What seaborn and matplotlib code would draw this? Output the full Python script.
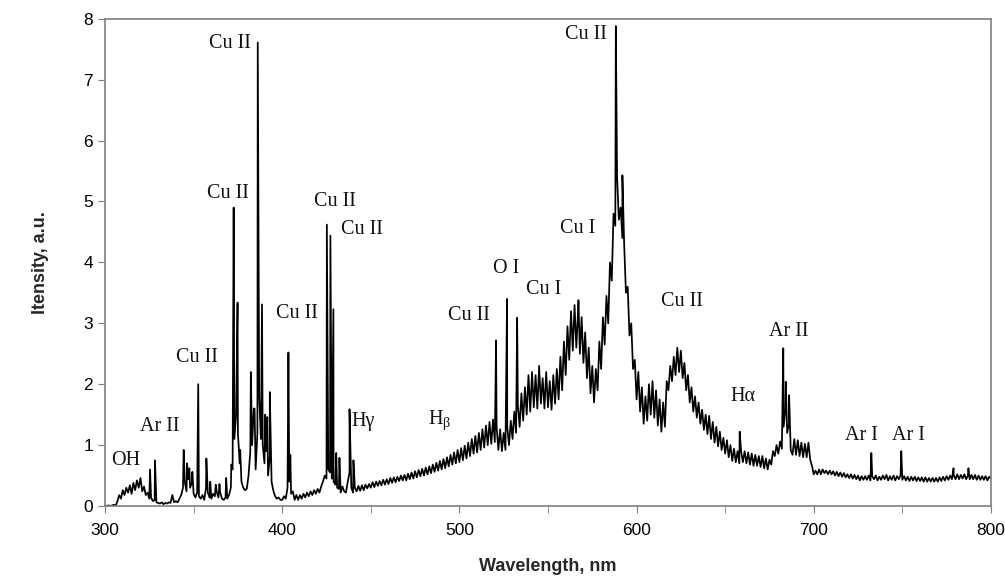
import numpy as np
import pandas as pd
import seaborn as sns
import matplotlib.pyplot as plt
from matplotlib.ticker import MultipleLocator

# continuum, read every 1 nm from 300 to 800 nm
cont_start = 300
continuum = [
    0.01, 0.00, 0.01, 0.00, 0.01, 0.02, 0.00, 0.08, 0.18, 0.12,
    0.26, 0.18, 0.30, 0.22, 0.34, 0.20, 0.38, 0.26, 0.42, 0.30,
    0.46, 0.24, 0.32, 0.18, 0.22, 0.12, 0.14, 0.08, 0.10, 0.06,
    0.05, 0.04, 0.06, 0.03, 0.05, 0.04, 0.06, 0.05, 0.18, 0.06,
    0.08, 0.06, 0.12, 0.18, 0.30, 0.40, 0.24, 0.44, 0.30, 0.38,
    0.20, 0.14, 0.22, 0.16, 0.12, 0.18, 0.10, 0.30, 0.22, 0.14,
    0.12, 0.20, 0.16, 0.24, 0.14, 0.22, 0.12, 0.10, 0.14, 0.12,
    0.18, 0.30, 0.60, 1.10, 1.50, 1.20, 0.70, 0.40, 0.30, 0.26,
    0.28, 0.50, 0.90, 1.00, 1.60, 0.60, 1.20, 1.80, 1.10, 1.00,
    0.70, 0.90, 0.50, 0.80, 0.40, 0.25, 0.16, 0.12, 0.14, 0.10,
    0.10, 0.16, 0.12, 0.30, 0.40, 0.20, 0.24, 0.10, 0.18, 0.10,
    0.18, 0.12, 0.20, 0.14, 0.22, 0.16, 0.24, 0.18, 0.26, 0.20,
    0.28, 0.22, 0.32, 0.40, 0.50, 0.45, 0.60, 0.55, 0.45, 0.40,
    0.35, 0.30, 0.28, 0.22, 0.32, 0.24, 0.22, 0.40, 0.55, 0.30,
    0.22, 0.30, 0.24, 0.33, 0.25, 0.34, 0.26, 0.35, 0.29, 0.36,
    0.30, 0.39, 0.31, 0.40, 0.33, 0.41, 0.34, 0.43, 0.35, 0.44,
    0.36, 0.46, 0.38, 0.47, 0.39, 0.48, 0.41, 0.50, 0.42, 0.51,
    0.42, 0.53, 0.44, 0.55, 0.45, 0.57, 0.47, 0.59, 0.49, 0.61,
    0.50, 0.63, 0.52, 0.65, 0.54, 0.68, 0.56, 0.71, 0.58, 0.74,
    0.60, 0.77, 0.62, 0.80, 0.65, 0.84, 0.68, 0.88, 0.70, 0.92,
    0.72, 0.95, 0.75, 0.99, 0.78, 1.04, 0.82, 1.10, 0.86, 1.15,
    0.88, 1.20, 0.92, 1.26, 0.96, 1.32, 1.00, 1.38, 1.02, 1.42,
    1.05, 1.30, 0.92, 1.26, 0.90, 1.20, 0.92, 1.30, 1.00, 1.40,
    1.10, 1.55, 1.20, 1.65, 1.30, 1.85, 1.40, 1.95, 1.50, 2.15,
    1.55, 2.20, 1.62, 2.15, 1.60, 2.30, 1.68, 2.10, 1.60, 2.20,
    1.62, 2.05, 1.58, 2.15, 1.68, 2.25, 1.75, 2.45, 1.90, 2.70,
    2.15, 2.95, 2.40, 3.20, 2.55, 3.30, 2.60, 3.20, 2.50, 3.10,
    2.35, 2.85, 2.10, 2.60, 1.85, 2.30, 1.70, 2.25, 1.90, 2.70,
    2.25, 3.10, 2.65, 3.45, 3.00, 4.00, 3.70, 4.80, 4.60, 5.40,
    4.70, 4.90, 4.40, 4.30, 3.50, 3.60, 2.80, 3.00, 2.25, 2.40,
    1.75, 2.20, 1.55, 1.95, 1.35, 1.80, 1.40, 2.00, 1.50, 2.05,
    1.45, 1.90, 1.32, 1.75, 1.22, 1.70, 1.30, 2.05, 1.90, 2.30,
    2.05, 2.45, 2.15, 2.60, 2.20, 2.55, 2.10, 2.35, 1.90, 2.15,
    1.70, 1.95, 1.55, 1.80, 1.45, 1.70, 1.35, 1.58, 1.25, 1.50,
    1.18, 1.48, 1.10, 1.38, 1.04, 1.30, 0.98, 1.22, 0.92, 1.12,
    0.86, 1.08, 0.80, 1.00, 0.74, 0.94, 0.72, 0.90, 0.70, 0.90,
    0.72, 0.90, 0.70, 0.88, 0.68, 0.86, 0.66, 0.84, 0.66, 0.82,
    0.64, 0.82, 0.62, 0.78, 0.60, 0.76, 0.68, 0.90, 0.82, 1.00,
    0.86, 1.06, 0.94, 1.30, 1.60, 1.20, 1.35, 0.92, 0.84, 1.10,
    0.84, 1.08, 0.82, 1.04, 0.80, 1.02, 0.80, 1.04, 0.76, 0.66,
    0.52, 0.58, 0.52, 0.60, 0.52, 0.60, 0.54, 0.58, 0.52, 0.58,
    0.52, 0.57, 0.50, 0.56, 0.49, 0.55, 0.48, 0.54, 0.47, 0.52,
    0.46, 0.52, 0.45, 0.51, 0.44, 0.50, 0.42, 0.49, 0.43, 0.49,
    0.43, 0.50, 0.42, 0.49, 0.44, 0.50, 0.42, 0.48, 0.43, 0.50,
    0.44, 0.51, 0.42, 0.49, 0.43, 0.50, 0.42, 0.49, 0.44, 0.50,
    0.43, 0.49, 0.42, 0.48, 0.41, 0.48, 0.42, 0.48, 0.41, 0.47,
    0.41, 0.47, 0.40, 0.47, 0.40, 0.46, 0.40, 0.46, 0.40, 0.46,
    0.40, 0.47, 0.41, 0.48, 0.42, 0.49, 0.43, 0.50, 0.44, 0.51,
    0.44, 0.52, 0.44, 0.51, 0.45, 0.52, 0.44, 0.50, 0.44, 0.51,
    0.44, 0.51, 0.43, 0.50, 0.43, 0.49, 0.43, 0.49, 0.42, 0.48,
    0.45,
]

# sharp emission lines (nm, peak intensity)
line_nm = [325.4, 328.2, 344.4, 346.3, 347.6, 349.3, 352.6, 357.2, 359.4, 362.5,
           364.6, 368.4, 371.3, 372.6, 374.8, 376.3, 382.3, 384.4, 386.2, 388.6,
           390.4, 391.6, 393.0, 403.5, 404.6, 425.2, 427.2, 428.9, 430.5, 432.3,
           438.0, 440.2, 520.7, 526.9, 532.6, 567.2, 588.3, 592.0, 658.2, 682.8,
           684.2, 686.1, 732.5, 749.4, 778.9, 787.3]
line_int = [0.60, 0.75, 0.92, 0.70, 0.62, 0.56, 2.00, 0.78, 0.40, 0.35,
            0.36, 0.46, 0.68, 4.90, 3.34, 0.92, 2.20, 1.60, 7.61, 3.31,
            1.50, 1.46, 1.87, 2.52, 0.84, 4.62, 4.44, 3.23, 0.87, 0.79,
            1.59, 0.75, 2.72, 3.40, 3.09, 3.38, 7.88, 5.43, 1.22, 2.59,
            2.04, 1.82, 0.87, 0.90, 0.62, 0.62]

# annotation labels and where they sit (data coords)
label_text = ['OH', 'Ar II', 'Cu II', 'Cu II', 'Cu II', 'Cu II', 'Cu II', 'Cu II',
              'Hγ', r'H$_\mathregular{β}$', 'Cu II', 'O I', 'Cu I', 'Cu I', 'Cu II',
              'Cu II', 'Hα', 'Ar II', 'Ar I', 'Ar I']
label_x = [311.8, 331.0, 351.8, 369.3, 370.4, 408.2, 429.6, 444.8,
           445.9, 488.7, 505.6, 526.3, 547.3, 566.7, 571.4,
           625.8, 660.0, 685.7, 726.8, 753.5]
label_y = [0.74, 1.30, 2.44, 5.13, 7.60, 3.16, 5.00, 4.54,
           1.38, 1.41, 3.13, 3.90, 3.56, 4.56, 7.75,
           3.35, 1.79, 2.86, 1.16, 1.16]

cont_nm = np.arange(cont_start, cont_start + len(continuum))
df = pd.DataFrame({
    'nm': np.concatenate([cont_nm, line_nm]),
    'intensity': np.concatenate([continuum, line_int]),
})

sns.set_style('ticks')
plt.rcParams['font.family'] = ['Liberation Sans', 'DejaVu Sans']
plt.rcParams['mathtext.fontset'] = 'custom'
plt.rcParams['mathtext.rm'] = 'Liberation Serif'

fig = plt.figure(figsize=(10.05, 5.87), dpi=100)
ax = fig.add_axes([0.1045, 0.138, 0.8815, 0.830])

sns.lineplot(data=df, x='nm', y='intensity', estimator=None, sort=True,
             color='black', linewidth=1.25, ax=ax)

for t, x, y in zip(label_text, label_x, label_y):
    ax.text(x, y, t, ha='center', va='center', fontsize=14.5,
            family=['Liberation Serif', 'DejaVu Serif'], color='#111111')

ax.set_xlim(300, 800)
ax.set_ylim(0, 8)
ax.xaxis.set_major_locator(MultipleLocator(100))
ax.xaxis.set_minor_locator(MultipleLocator(50))
ax.yaxis.set_major_locator(MultipleLocator(1))
ax.tick_params(axis='both', which='both', direction='out', colors='#7f7f7f',
               labelcolor='black', labelsize=12.5, length=5)
ax.tick_params(axis='x', pad=7)

for side in ['left', 'right', 'top', 'bottom']:
    ax.spines[side].set_visible(True)
    ax.spines[side].set_color('#7f7f7f')
    ax.spines[side].set_linewidth(1.2)

ax.set_xlabel('Wavelength, nm', fontsize=13, fontweight='bold', labelpad=15)
ax.set_ylabel('Itensity, a.u.', fontsize=13, fontweight='bold', labelpad=25)

fig.savefig('out.png', dpi=100)
